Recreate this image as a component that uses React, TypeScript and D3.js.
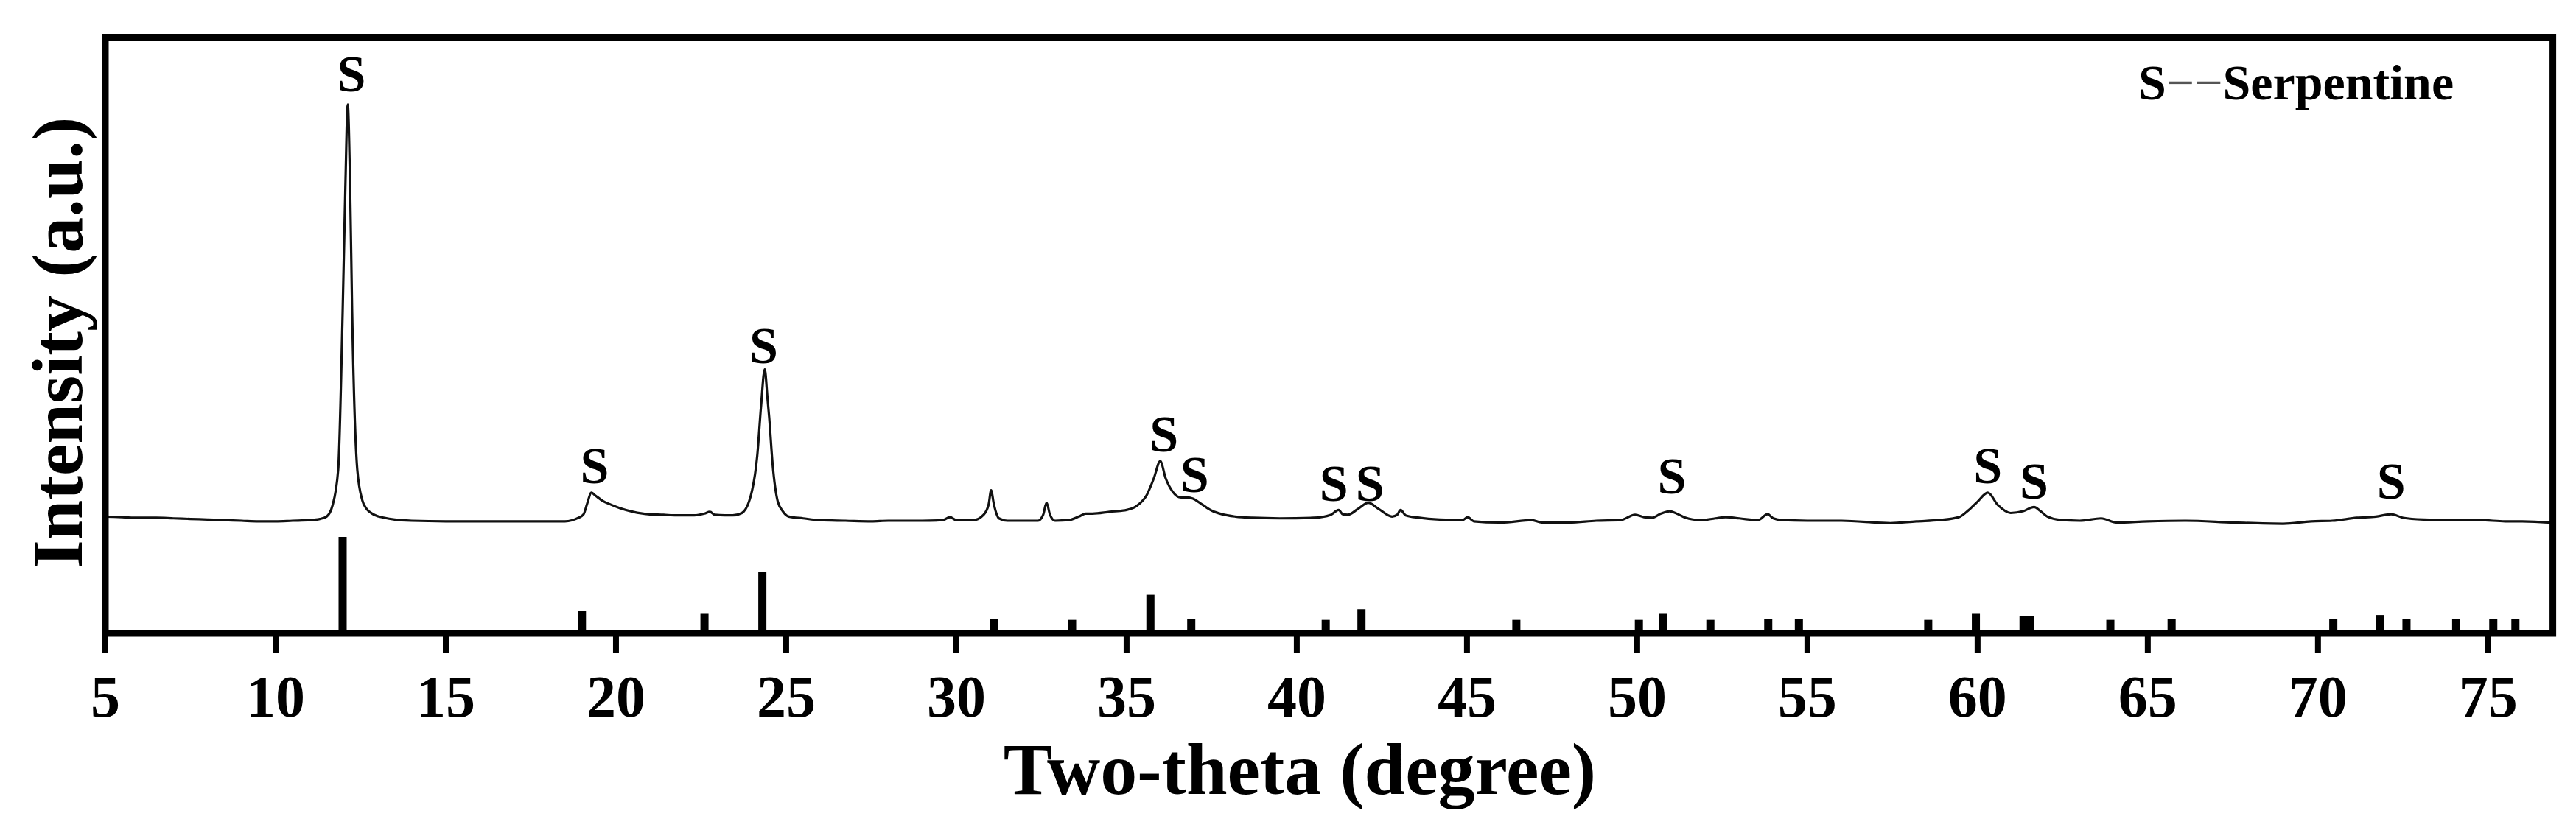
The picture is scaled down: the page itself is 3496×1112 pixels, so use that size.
import React from 'react';
import * as d3 from 'd3';

const W = 3496;
const H = 1112;

// x axis
const xDomain: [number, number] = [5, 76.9];
const xTicks = [5, 10, 15, 20, 25, 30, 35, 40, 45, 50, 55, 60, 65, 70, 75];

// measured XRD pattern (2θ, intensity a.u.)
const traceTheta = [
  5.0, 5.5, 6.0, 6.5, 7.0, 7.5, 8.0, 8.5, 9.0, 9.5, 10.0, 10.5, 11.0, 11.3, 11.5, 11.67, 11.84, 11.97, 12.05, 12.12,
  12.19, 12.25, 12.4, 12.55, 12.66, 12.9, 13.2, 13.5, 14.0, 15.0, 16.0, 17.0, 18.0, 18.5, 18.9, 19.05, 19.15, 19.28,
  19.4, 19.62, 19.85, 20.12, 20.5, 20.94, 21.4, 21.77, 22.3, 22.6, 22.76, 22.9, 23.2, 23.43, 23.7, 24.0, 24.15, 24.26,
  24.37, 24.45, 24.5, 24.6, 24.75, 24.9, 25.08, 25.5, 26.0, 26.74, 27.5, 28.0, 29.0, 29.6, 29.81, 30.0, 30.5, 30.8,
  30.95, 31.02, 31.1, 31.25, 31.5, 32.0, 32.4, 32.55, 32.65, 32.75, 32.9, 33.3, 33.6, 33.8, 34.0, 34.5, 35.0, 35.3,
  35.6, 35.8, 35.99, 36.15, 36.35, 36.6, 36.8, 36.95, 37.2, 37.5, 37.8, 38.2, 38.7, 39.5, 40.5, 41.0, 41.23, 41.35,
  41.5, 41.8, 42.1, 42.4, 42.8, 42.95, 43.05, 43.2, 43.6, 44.2, 44.87, 45.02, 45.2, 46.0, 46.9, 47.2, 48.0, 48.8,
  49.5, 49.94, 50.2, 50.43, 50.7, 50.95, 51.2, 51.38, 51.88, 52.3, 52.6, 53.0, 53.55, 53.83, 54.0, 54.26, 55.0, 56.0,
  57.44, 58.2, 58.87, 59.45, 59.74, 60.0, 60.3, 60.6, 60.97, 61.34, 61.66, 61.85, 62.05, 62.49, 63.0, 63.63, 64.07,
  65.0, 66.1, 67.53, 68.98, 69.8, 70.42, 71.14, 71.7, 72.15, 72.5, 73.1, 74.0, 74.77, 75.5, 76.0, 76.74, 76.9,
];
const traceIntensity = [
  196, 195, 194, 194, 193, 192, 191, 190, 189, 188, 188, 189, 190, 192, 196, 214, 275, 538, 748, 887,
  748, 538, 275, 223, 210, 199, 194, 191, 189, 188, 188, 188, 188, 188, 194, 200, 217, 236,
  231, 222, 216, 210, 204, 200, 199, 198, 198, 201, 204, 199, 198, 198, 202, 240, 298, 380,
  443, 395, 363, 285, 222, 205, 196, 193, 190, 189, 188, 189, 189, 190, 195, 190, 190, 199,
  217, 240, 217, 193, 189, 189, 189, 199, 219, 199, 189, 190, 196, 201, 201, 204, 207, 214,
  233, 260, 289, 260, 238, 228, 228, 226, 217, 206, 200, 196, 194, 193, 194, 199, 207, 200,
  199, 209, 219, 209, 196, 199, 207, 198, 194, 191, 190, 195, 188, 186, 190, 186, 186, 189,
  190, 199, 195, 194, 201, 205, 200, 195, 190, 193, 195, 193, 190, 200, 193, 190, 189, 189,
  185, 188, 190, 195, 207, 221, 236, 215, 202, 205, 212, 205, 196, 190, 189, 193, 186,
  188, 189, 186, 184, 188, 189, 194, 196, 200, 194, 191, 190, 190, 188, 188, 186, 185,
];

// reference pattern (2θ, relative intensity %)
const stickTheta = [
  11.97, 19.0, 22.6, 24.3, 31.1, 33.4, 35.7, 36.9, 40.85, 41.9, 46.45, 50.05, 50.75, 52.15, 53.85,
  54.75, 58.55, 59.95, 61.35, 61.55, 63.9, 65.7, 70.45, 71.82, 72.6, 74.06, 75.15, 75.8,
];
const stickIntensity = [
  100, 23, 21, 64, 15, 14, 40, 15, 14, 25, 14, 14, 21, 14, 15,
  15, 14, 21, 18, 18, 14, 15, 15, 19, 15, 15, 15, 15,
];

// peak annotations
const labelTheta = [12.23, 19.37, 24.34, 36.1, 37.0, 41.09, 42.15, 51.02, 60.3, 61.66, 72.15];
const labelLevel = [909, 252, 453, 305, 237, 222, 222, 235, 252, 226, 226];
const labelText = 'S';

const legendSymbol = 'S';
const legendDash = '\u2212\u2212';
const legendName = 'Serpentine';
const xTitle = 'Two-theta (degree)';
const yTitle = 'Intensity (a.u.)';

const FONT = '"Liberation Serif", "Times New Roman", Times, serif';

export default function App() {
  const left = 143;
  const right = 3464.6;
  const top = 50.5;
  const bottom = 860;

  const x = d3.scaleLinear().domain(xDomain).range([left, right]);
  const y = d3.scaleLinear().domain([0, 1000]).range([bottom, top]);
  const stickH = d3.scaleLinear().domain([0, 100]).range([0, 131]);

  const pts: [number, number][] = traceTheta.map((t, i) => [t, traceIntensity[i]]);
  const line = d3
    .line<[number, number]>()
    .x((d) => x(d[0]))
    .y((d) => y(d[1]))
    .curve(d3.curveMonotoneX);

  return (
    <svg
      width={W}
      height={H}
      viewBox={`0 0 ${W} ${H}`}
      style={{ position: 'absolute', left: 0, top: 0, background: '#fff' }}
      fontFamily={FONT}
    >
      <rect x={0} y={0} width={W} height={H} fill="#fff" />
      {/* reference sticks */}
      {stickTheta.map((t, i) => (
        <rect
          key={'s' + i}
          x={x(t) - 5.5}
          y={bottom - stickH(stickIntensity[i])}
          width={11}
          height={stickH(stickIntensity[i])}
          fill="#000"
        />
      ))}
      {/* pattern */}
      <path d={line(pts) || ''} fill="none" stroke="#111" strokeWidth={3.2} strokeLinejoin="round" />
      {/* peak labels */}
      {labelTheta.map((t, i) => (
        <text
          key={'l' + i}
          x={x(t)}
          y={y(labelLevel[i])}
          textAnchor="middle"
          fontWeight="bold"
          fontSize={70}
          fill="#000"
        >
          {labelText}
        </text>
      ))}
      {/* frame */}
      <rect x={left} y={top} width={right - left} height={bottom - top} fill="none" stroke="#000" strokeWidth={9} />
      {/* x ticks */}
      {xTicks.map((t) => (
        <g key={'t' + t}>
          <line x1={x(t)} x2={x(t)} y1={bottom} y2={887} stroke="#000" strokeWidth={8} />
          <text x={x(t)} y={973} textAnchor="middle" fontWeight="bold" fontSize={80} fill="#000">
            {t}
          </text>
        </g>
      ))}
      {/* axis titles */}
      <text x={1764} y={1078} textAnchor="middle" fontWeight="bold" fontSize={100} fill="#000">
        {xTitle}
      </text>
      <text
        transform="translate(111,465) rotate(-90)"
        textAnchor="middle"
        fontWeight="bold"
        fontSize={98}
        fill="#000"
      >
        {yTitle}
      </text>
      {/* legend */}
      <text x={2902} y={135} fontSize={68} fill="#000">
        <tspan fontWeight="bold">{legendSymbol}</tspan>
        <tspan fontWeight="normal" fill="#555">{legendDash}</tspan>
        <tspan fontWeight="bold">{legendName}</tspan>
      </text>
    </svg>
  );
}
